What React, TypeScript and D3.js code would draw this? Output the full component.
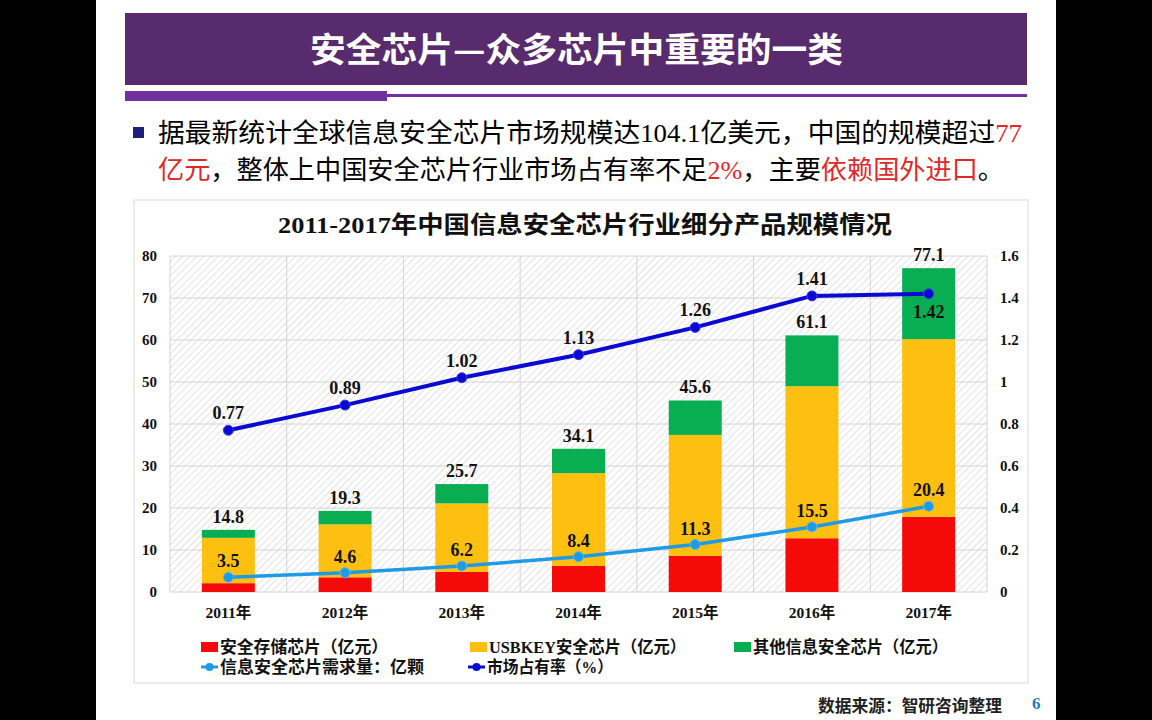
import React from 'react';
import * as d3 from 'd3';

const years = ['2011年', '2012年', '2013年', '2014年', '2015年', '2016年', '2017年'];
const storage = [2.1, 3.5, 4.8, 6.2, 8.6, 12.8, 17.9];
const usbkey = [10.8, 12.6, 16.3, 22.1, 28.8, 36.2, 42.3];
const other = [1.9, 3.2, 4.6, 5.8, 8.2, 12.1, 16.9];
const totals = [14.8, 19.3, 25.7, 34.1, 45.6, 61.1, 77.1];
const demand = [3.5, 4.6, 6.2, 8.4, 11.3, 15.5, 20.4];
const share = [0.77, 0.89, 1.02, 1.13, 1.26, 1.41, 1.42];
const leftTicks = [0, 10, 20, 30, 40, 50, 60, 70, 80];
const rightTicks = [0, 0.2, 0.4, 0.6, 0.8, 1, 1.2, 1.4, 1.6];
const seriesNames = ['安全存储芯片（亿元）', 'USBKEY安全芯片（亿元）', '其他信息安全芯片（亿元）'];
const lineNames = ['信息安全芯片需求量：亿颗', '市场占有率（%）'];

const C_RED = '#f50a0a';
const C_YEL = '#fdc010';
const C_GRN = '#0aae52';
const C_LB = '#1f9ae6';
const C_DB = '#0a0ad2';
const PURPLE = '#582a6e';
const SERIF = "'Liberation Serif', 'Noto Sans CJK SC', serif";
const CJK = "'Noto Sans CJK SC', 'Liberation Serif', sans-serif";

export default function App() {
  const left = 170, right = 987, top = 256, bottom = 592;
  const x = d3.scaleBand<string>().domain(years).range([left, right]).paddingInner(0.546).paddingOuter(0.273);
  const y = d3.scaleLinear().domain([0, 80]).range([bottom, top]);
  const y2 = d3.scaleLinear().domain([0, 1.6]).range([bottom, top]);
  const step = x.step();
  const bw = x.bandwidth();
  const cx = (i: number) => (x(years[i]) as number) + bw / 2;

  const rows = years.map((yr, i) => ({ yr, s: storage[i], u: usbkey[i], o: other[i] }));
  const stack = d3.stack<any>().keys(['s', 'u', 'o'])(rows);
  const colors = [C_RED, C_YEL, C_GRN];

  const lineDemand = d3.line<number>().x((_, i) => cx(i)).y((d) => y(d));
  const lineShare = d3.line<number>().x((_, i) => cx(i)).y((d) => y2(d));

  const vGrid = d3.range(years.length + 1).map((i) => left + i * step);

  const legendX1 = [201, 470, 734];
  const legendW1 = [168, 197, 195];
  const legendX2 = [201, 468];
  const legendW2 = [204, 126];

  return (
    <svg width={1152} height={720} style={{ position: 'absolute', left: 0, top: 0 }}>
      <defs>
        <pattern id="hatch" width={5} height={5} patternUnits="userSpaceOnUse" patternTransform="rotate(45)">
          <rect width={5} height={5} fill="#ffffff" />
          <line x1={0} y1={0} x2={0} y2={5} stroke="#dcdcdc" strokeWidth={1.6} />
        </pattern>
      </defs>
      <rect x={0} y={0} width={1152} height={720} fill="#000" />
      <rect x={96} y={0} width={960} height={720} fill="#ffffff" />

      {/* banner */}
      <rect x={125} y={13} width={902} height={72} fill={PURPLE} />
      <text x={310} y={62} fill="#fff" fontFamily={CJK} fontWeight={700} fontSize={34} textLength={533} lengthAdjust="spacingAndGlyphs">
        安全芯片—众多芯片中重要的一类
      </text>
      <rect x={125} y={91} width={262} height={10} fill="#7030a0" />
      <rect x={387} y={94} width={640} height={3} fill="#7030a0" />

      {/* bullet */}
      <rect x={133} y={127} width={11} height={11} fill="#1f1f7a" />
      <text x={158} y={142} fontFamily={CJK} fontSize={26} fill="#000" textLength={864} lengthAdjust="spacingAndGlyphs">
        据最新统计全球信息安全芯片市场规模达<tspan fontFamily={SERIF}>104.1</tspan>亿美元，中国的规模超过<tspan fill="#e0282a" fontFamily={SERIF}>77</tspan>
      </text>
      <text x={158} y={179} fontFamily={CJK} fontSize={26} fill="#000" textLength={846} lengthAdjust="spacingAndGlyphs">
        <tspan fill="#e0282a">亿元</tspan>，整体上中国安全芯片行业市场占有率不足<tspan fill="#e0282a" fontFamily={SERIF}>2%</tspan>，主要<tspan fill="#e0282a">依赖国外进口</tspan>。
      </text>

      {/* chart frame */}
      <rect x={134} y={200} width={894} height={483} fill="#fff" stroke="#d9d9d9" strokeWidth={1} />
      <text x={278} y={233} fontFamily={SERIF} fontWeight={700} fontSize={24} fill="#111" textLength={614} lengthAdjust="spacingAndGlyphs">
        2011-2017年中国信息安全芯片行业细分产品规模情况
      </text>

      {/* plot background */}
      <rect x={left} y={top} width={right - left} height={bottom - top} fill="url(#hatch)" />
      {leftTicks.map((t) => (
        <line key={'h' + t} x1={left} x2={right} y1={y(t)} y2={y(t)} stroke="#d4d4d4" strokeWidth={1} />
      ))}
      {vGrid.map((gx, i) => (
        <line key={'v' + i} x1={gx} x2={gx} y1={top} y2={bottom} stroke="#d4d4d4" strokeWidth={1} />
      ))}

      {/* axes labels */}
      {leftTicks.map((t) => (
        <text key={'l' + t} x={157} y={y(t) + 5} textAnchor="end" fontFamily={SERIF} fontWeight={700} fontSize={15} fill="#111">
          {t}
        </text>
      ))}
      {rightTicks.map((t) => (
        <text key={'r' + t} x={1000} y={y2(t) + 5} textAnchor="start" fontFamily={SERIF} fontWeight={700} fontSize={15} fill="#111">
          {String(t)}
        </text>
      ))}
      {years.map((yr, i) => (
        <text key={yr} x={cx(i)} y={618} textAnchor="middle" fontFamily={SERIF} fontWeight={700} fontSize={15.5} fill="#111">
          {yr}
        </text>
      ))}

      {/* bars */}
      {stack.map((layer, li) =>
        layer.map((d, i) => (
          <rect key={li + '-' + i} x={x(years[i])} y={y(d[1])} width={bw} height={y(d[0]) - y(d[1])} fill={colors[li]} />
        ))
      )}
      {totals.map((t, i) => (
        <text key={'t' + i} x={cx(i)} y={y(t) - 7} textAnchor="middle" fontFamily={SERIF} fontWeight={700} fontSize={18} fill="#111">
          {t}
        </text>
      ))}

      {/* lines */}
      <path d={lineDemand(demand) as string} fill="none" stroke={C_LB} strokeWidth={3.5} />
      {demand.map((v, i) => (
        <circle key={'dc' + i} cx={cx(i)} cy={y(v)} r={5} fill={C_LB} stroke="#5bb8f0" strokeWidth={1} />
      ))}
      {demand.map((v, i) => (
        <text key={'dt' + i} x={cx(i)} y={y(v) - 10} textAnchor="middle" fontFamily={SERIF} fontWeight={700} fontSize={18} fill="#111">
          {v}
        </text>
      ))}
      <path d={lineShare(share) as string} fill="none" stroke={C_DB} strokeWidth={4} />
      {share.map((v, i) => (
        <circle key={'sc' + i} cx={cx(i)} cy={y2(v)} r={5} fill={C_DB} stroke="#3a3ae6" strokeWidth={1} />
      ))}
      {share.map((v, i) => (
        <text key={'st' + i} x={cx(i)} y={i === share.length - 1 ? y2(v) + 24 : y2(v) - 11} textAnchor="middle" fontFamily={SERIF} fontWeight={700} fontSize={18} fill="#111">
          {v.toFixed(2)}
        </text>
      ))}

      {/* legend */}
      {seriesNames.map((n, i) => {
        const lx = legendX1[i];
        return (
          <g key={n}>
            <rect x={lx} y={642} width={17} height={10} fill={colors[i]} />
            <text x={lx + 19} y={653} fontFamily={SERIF} fontWeight={700} fontSize={16.5} fill="#111" textLength={legendW1[i]} lengthAdjust="spacingAndGlyphs">
              {n}
            </text>
          </g>
        );
      })}
      {lineNames.map((n, i) => {
        const lx = legendX2[i];
        const col = [C_LB, C_DB][i];
        return (
          <g key={n}>
            <line x1={lx} x2={lx + 17} y1={667} y2={667} stroke={col} strokeWidth={3} />
            <circle cx={lx + 8.5} cy={667} r={4} fill={col} />
            <text x={lx + 19} y={673} fontFamily={SERIF} fontWeight={700} fontSize={16.5} fill="#111" textLength={legendW2[i]} lengthAdjust="spacingAndGlyphs">
              {n}
            </text>
          </g>
        );
      })}

      {/* footer */}
      <text x={818} y={712} fontFamily={CJK} fontWeight={700} fontSize={16.5} fill="#222" textLength={184} lengthAdjust="spacingAndGlyphs">
        数据来源：智研咨询整理
      </text>
      <text x={1032} y={709} fontFamily={SERIF} fontWeight={700} fontSize={17} fill="#2e75b6">
        6
      </text>
    </svg>
  );
}
